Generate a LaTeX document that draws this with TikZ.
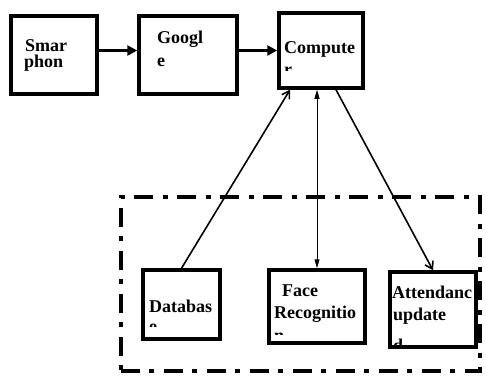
\documentclass[tikz,border=0pt]{standalone}
\usepackage{fontspec}
\setmainfont{Liberation Serif}
\usetikzlibrary{arrows.meta,positioning}

\begin{document}
\begin{tikzpicture}[x=1pt,y=-1pt,node distance=38.5pt]
    \tikzset{unit/.style={draw,line width=3.5pt,inner sep=0pt},
      boxtext/.style={anchor=base west,inner sep=0pt,font=\bfseries\fontsize{18}{20}\selectfont},
      groupframe/.style={draw,line width=4pt,dash pattern=on 19pt off 9pt on 5pt off 10pt,
        minimum width=359pt,minimum height=174pt,inner sep=0pt},
      bigarrow/.style={line width=3pt,-{Triangle[length=10pt,width=10pt]}},
      thinarrow/.style={line width=1.6pt,-{Straight Barb[length=7pt,width=9pt]}},
      twoarrow/.style={line width=1pt,{Triangle[length=9pt,width=5pt]}-{Triangle[length=9pt,width=5pt]}}}
    \useasboundingbox (0,0) rectangle (486,376);
    % top row
    \node[unit,minimum width=86pt,minimum height=78pt] (phone) at (54,55) {};
    \node[unit,minimum width=98pt,minimum height=78pt,right=of phone] (google) {};
    \node[unit,minimum width=84pt,minimum height=75pt,right=of google,yshift=4.5pt] (computer) {};
    % group of the lower units
    \node[groupframe] (group) at (300.5,284) {};
    \node[unit,minimum width=77pt,minimum height=69pt] (database) at (181.5,304.5) {};
    \node[unit,minimum width=96pt,minimum height=73pt] (face) at (317,306.5) {};
    \node[unit,minimum width=86pt,minimum height=75pt] (attend) at (433,309.5) {};
    % texts
    \node[boxtext] (phone-a) at (25,51) {Smar};
    \node[boxtext] (phone-b) at (24,67) {phon};
    \node[boxtext] (google-a) at (157,43) {Googl};
    \node[boxtext] (google-b) at (157,66) {e};
    \begin{scope}
      \clip (280,14) rectangle (362,70);
      \node[boxtext] (computer-a) at (284,53) {Compute};
      \node[boxtext] (computer-b) at (284,75) {r};
    \end{scope}
    \begin{scope}
      \clip (144,271) rectangle (219,326);
      \node[boxtext] (database-a) at (149,312) {Databas};
      \node[boxtext] (database-b) at (149,332) {e};
    \end{scope}
    \begin{scope}
      \clip (270,271) rectangle (364,334);
      \node[boxtext] (face-a) at (282,296) {Face};
      \node[boxtext] (face-b) at (274,318) {Recognitio};
      \node[boxtext] (face-c) at (274,341) {n};
    \end{scope}
    \begin{scope}
      \clip (391,273) rectangle (476,347);
      \node[boxtext] (attend-a) at (392,298) {Attendanc};
      \node[boxtext] (attend-b) at (393,320) {update};
      \node[boxtext] (attend-c) at (393,351) {d};
    \end{scope}
    % connectors
    \draw[bigarrow] (phone.east |- computer.west) -- (google.west |- computer.west);
    \draw[bigarrow] (google.east |- computer.west) -- (computer.west);
    \draw[thinarrow] (database.north) -- ([xshift=-31pt]computer.south);
    \draw[twoarrow] (face.north |- computer.south) -- (face.north);
    \draw[thinarrow] ([xshift=15pt]computer.south) -- (attend.north);
\end{tikzpicture}
\end{document}
